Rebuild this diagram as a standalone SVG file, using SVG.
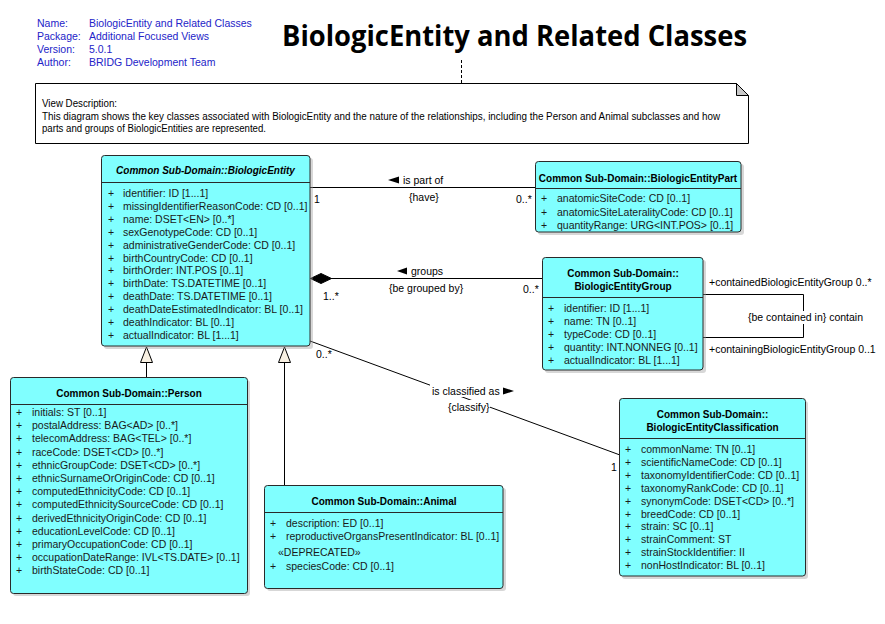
<svg xmlns="http://www.w3.org/2000/svg" width="885" height="624" viewBox="0 0 885 624">
<style>
.hdr{font-family:"Liberation Sans",Arial,sans-serif;font-size:10.5px;fill:#2323c8}
.ttl{font-family:"Open Sans","Liberation Sans",sans-serif;font-weight:700;font-size:28px;fill:#000}
.nt{font-family:"Liberation Sans",Arial,sans-serif;font-size:10px;fill:#000}
.box{fill:#80ffff;stroke:#2a2a2a;stroke-width:1}
.shd{fill:#9a9a9a;opacity:0.4}
.sep{stroke:#2a2a2a;stroke-width:1}
.ct{font-family:"Liberation Sans",Arial,sans-serif;font-size:10px;font-weight:700;fill:#000;text-anchor:middle}
.a{font-family:"Liberation Sans",Arial,sans-serif;font-size:10.5px;fill:#1a1a1a}
.lb{font-family:"Liberation Sans",Arial,sans-serif;font-size:10.5px;fill:#000}
.ln{stroke:#000;stroke-width:1;fill:none}
.gen{fill:#f8f0e2;stroke:#000;stroke-width:1}
</style>
<rect width="885" height="624" fill="#fff"/>

<g id="header">
<text class="hdr" y="27"><tspan x="37">Name:</tspan><tspan x="89">BiologicEntity and Related Classes</tspan></text>
<text class="hdr" y="40"><tspan x="37">Package:</tspan><tspan x="89">Additional Focused Views</tspan></text>
<text class="hdr" y="53"><tspan x="37">Version:</tspan><tspan x="89">5.0.1</tspan></text>
<text class="hdr" y="66"><tspan x="37">Author:</tspan><tspan x="89">BRIDG Development Team</tspan></text>
<text class="ttl" x="282" y="46" textLength="465" lengthAdjust="spacingAndGlyphs">BiologicEntity and Related Classes</text>
</g>

<g id="note">
<line x1="461.5" y1="60" x2="461.5" y2="83" stroke="#000" stroke-dasharray="3,2"/>
<path d="M35.5 83.5 H736.5 L748.5 95.5 V143.5 H35.5 Z" fill="#fff" stroke="#000"/>
<path d="M736.5 83.5 V95.5 H748.5 Z" fill="#c8c8c8" stroke="#000"/>
<text class="nt" x="42" y="107" textLength="75" lengthAdjust="spacingAndGlyphs">View Description:</text>
<text class="nt" x="42" y="119.5" textLength="678" lengthAdjust="spacingAndGlyphs">This diagram shows the key classes associated with BiologicEntity and the nature of the relationships, including the Person and Animal subclasses and how</text>
<text class="nt" x="42" y="132" textLength="224" lengthAdjust="spacingAndGlyphs">parts and groups of BiologicEntities are represented.</text>
</g>

<g id="connectors">
<line class="ln" x1="310" y1="187.5" x2="535" y2="187.5"/>
<path d="M388 180 L399 176.5 L399 183.5 Z" fill="#000"/>
<text class="lb" x="403" y="184">is part of</text>
<text class="lb" x="409" y="201">{have}</text>
<text class="lb" x="314" y="203">1</text>
<text class="lb" x="516" y="203">0..*</text>
<line class="ln" x1="331" y1="278.5" x2="543" y2="278.5"/>
<path d="M310.5 278.5 L321 273.5 L331.5 278.5 L321 283.5 Z" fill="#000" stroke="#000"/>
<path d="M397 271 L407 267.5 L407 274.5 Z" fill="#000"/>
<text class="lb" x="411" y="275">groups</text>
<text class="lb" x="389" y="292">{be grouped by}</text>
<text class="lb" x="323" y="300">1..*</text>
<text class="lb" x="523" y="293">0..*</text>
<path class="ln" d="M703 294.5 H803.5 V337.5 H703"/>
<text class="lb" x="709" y="286">+containedBiologicEntityGroup 0..*</text>
<rect x="746" y="311" width="120" height="13" fill="#fff"/>
<text class="lb" x="748" y="321">{be contained in} contain</text>
<text class="lb" x="709" y="353">+containingBiologicEntityGroup 0..1</text>
<line class="ln" x1="310" y1="341" x2="620" y2="455"/>
<rect x="430" y="384" width="88" height="13" fill="#fff"/>
<rect x="446" y="400" width="44" height="13" fill="#fff"/>
<text class="lb" x="432" y="395">is classified as</text>
<path d="M514 391 L503 387.5 L503 394.5 Z" fill="#000"/>
<text class="lb" x="448" y="411">{classify}</text>
<text class="lb" x="316" y="358">0..*</text>
<text class="lb" x="611" y="471">1</text>
<line class="ln" x1="146.5" y1="362" x2="146.5" y2="377"/>
<path class="gen" d="M146.5 347 L140.5 362.5 L152.5 362.5 Z"/>
<line class="ln" x1="284.5" y1="362" x2="284.5" y2="485"/>
<path class="gen" d="M284.5 347 L278.5 362.5 L290.5 362.5 Z"/>
</g>

<g id="BiologicEntity">
<rect class="shd" x="104" y="158" width="209" height="191" rx="3"/>
<rect class="box" x="101.5" y="155.5" width="208.5" height="190.5" rx="3"/>
<line class="sep" x1="101.5" y1="182.5" x2="310" y2="182.5"/>
<text class="ct" x="205.5" y="174" font-style="italic">Common Sub-Domain::BiologicEntity</text>
<text class="a" y="197"><tspan x="108">+</tspan><tspan x="123">identifier: ID [1...1]</tspan></text>
<text class="a" y="209.9"><tspan x="108">+</tspan><tspan x="123">missingIdentifierReasonCode: CD [0..1]</tspan></text>
<text class="a" y="222.8"><tspan x="108">+</tspan><tspan x="123">name: DSET&lt;EN&gt; [0..*]</tspan></text>
<text class="a" y="235.7"><tspan x="108">+</tspan><tspan x="123">sexGenotypeCode: CD [0..1]</tspan></text>
<text class="a" y="248.6"><tspan x="108">+</tspan><tspan x="123">administrativeGenderCode: CD [0..1]</tspan></text>
<text class="a" y="261.5"><tspan x="108">+</tspan><tspan x="123">birthCountryCode: CD [0..1]</tspan></text>
<text class="a" y="274.4"><tspan x="108">+</tspan><tspan x="123">birthOrder: INT.POS [0..1]</tspan></text>
<text class="a" y="287.3"><tspan x="108">+</tspan><tspan x="123">birthDate: TS.DATETIME [0..1]</tspan></text>
<text class="a" y="300.2"><tspan x="108">+</tspan><tspan x="123">deathDate: TS.DATETIME [0..1]</tspan></text>
<text class="a" y="313.1"><tspan x="108">+</tspan><tspan x="123">deathDateEstimatedIndicator: BL [0..1]</tspan></text>
<text class="a" y="326"><tspan x="108">+</tspan><tspan x="123">deathIndicator: BL [0..1]</tspan></text>
<text class="a" y="338.9"><tspan x="108">+</tspan><tspan x="123">actualIndicator: BL [1...1]</tspan></text>
</g>

<g id="BiologicEntityPart">
<rect class="shd" x="538" y="164" width="206" height="71" rx="3"/>
<rect class="box" x="535.5" y="161.5" width="205.5" height="70.5" rx="3"/>
<line class="sep" x1="535.5" y1="188.5" x2="741" y2="188.5"/>
<text class="ct" x="638" y="182">Common Sub-Domain::BiologicEntityPart</text>
<text class="a" y="202"><tspan x="541">+</tspan><tspan x="557">anatomicSiteCode: CD [0..1]</tspan></text>
<text class="a" y="215.5"><tspan x="541">+</tspan><tspan x="557">anatomicSiteLateralityCode: CD [0..1]</tspan></text>
<text class="a" y="228.5"><tspan x="541">+</tspan><tspan x="557">quantityRange: URG&lt;INT.POS&gt; [0..1]</tspan></text>
</g>

<g id="BiologicEntityGroup">
<rect class="shd" x="545" y="260" width="161" height="113" rx="3"/>
<rect class="box" x="542.5" y="257.5" width="160.5" height="112.5" rx="3"/>
<line class="sep" x1="542.5" y1="297.5" x2="703" y2="297.5"/>
<text class="ct" x="623" y="277">Common Sub-Domain::</text>
<text class="ct" x="623" y="290">BiologicEntityGroup</text>
<text class="a" y="312"><tspan x="548">+</tspan><tspan x="564">identifier: ID [1...1]</tspan></text>
<text class="a" y="325"><tspan x="548">+</tspan><tspan x="564">name: TN [0..1]</tspan></text>
<text class="a" y="338"><tspan x="548">+</tspan><tspan x="564">typeCode: CD [0..1]</tspan></text>
<text class="a" y="351"><tspan x="548">+</tspan><tspan x="564">quantity: INT.NONNEG [0..1]</tspan></text>
<text class="a" y="363.5"><tspan x="548">+</tspan><tspan x="564">actualIndicator: BL [1...1]</tspan></text>
</g>

<g id="Person">
<rect class="shd" x="13" y="380" width="237" height="216" rx="3"/>
<rect class="box" x="10.5" y="377.5" width="237" height="216" rx="3"/>
<line class="sep" x1="10.5" y1="404.5" x2="247.5" y2="404.5"/>
<text class="ct" x="129" y="397">Common Sub-Domain::Person</text>
<text class="a" y="416"><tspan x="16">+</tspan><tspan x="32">initials: ST [0..1]</tspan></text>
<text class="a" y="429.2"><tspan x="16">+</tspan><tspan x="32">postalAddress: BAG&lt;AD&gt; [0..*]</tspan></text>
<text class="a" y="442.4"><tspan x="16">+</tspan><tspan x="32">telecomAddress: BAG&lt;TEL&gt; [0..*]</tspan></text>
<text class="a" y="455.6"><tspan x="16">+</tspan><tspan x="32">raceCode: DSET&lt;CD&gt; [0..*]</tspan></text>
<text class="a" y="468.8"><tspan x="16">+</tspan><tspan x="32">ethnicGroupCode: DSET&lt;CD&gt; [0..*]</tspan></text>
<text class="a" y="482"><tspan x="16">+</tspan><tspan x="32">ethnicSurnameOrOriginCode: CD [0..1]</tspan></text>
<text class="a" y="495.2"><tspan x="16">+</tspan><tspan x="32">computedEthnicityCode: CD [0..1]</tspan></text>
<text class="a" y="508.4"><tspan x="16">+</tspan><tspan x="32">computedEthnicitySourceCode: CD [0..1]</tspan></text>
<text class="a" y="521.6"><tspan x="16">+</tspan><tspan x="32">derivedEthnicityOriginCode: CD [0..1]</tspan></text>
<text class="a" y="534.8"><tspan x="16">+</tspan><tspan x="32">educationLevelCode: CD [0..1]</tspan></text>
<text class="a" y="548"><tspan x="16">+</tspan><tspan x="32">primaryOccupationCode: CD [0..1]</tspan></text>
<text class="a" y="561.2"><tspan x="16">+</tspan><tspan x="32">occupationDateRange: IVL&lt;TS.DATE&gt; [0..1]</tspan></text>
<text class="a" y="574.4"><tspan x="16">+</tspan><tspan x="32">birthStateCode: CD [0..1]</tspan></text>
</g>

<g id="Animal">
<rect class="shd" x="267" y="488" width="239" height="103" rx="3"/>
<rect class="box" x="264.5" y="485.5" width="238.5" height="103" rx="3"/>
<line class="sep" x1="264.5" y1="512.5" x2="503" y2="512.5"/>
<text class="ct" x="384" y="505">Common Sub-Domain::Animal</text>
<text class="a" y="527"><tspan x="270">+</tspan><tspan x="286">description: ED [0..1]</tspan></text>
<text class="a" y="540"><tspan x="270">+</tspan><tspan x="286">reproductiveOrgansPresentIndicator: BL [0..1]</tspan></text>
<text class="a" x="278" y="556">«DEPRECATED»</text>
<text class="a" y="570"><tspan x="270">+</tspan><tspan x="286">speciesCode: CD [0..1]</tspan></text>
</g>

<g id="BiologicEntityClassification">
<rect class="shd" x="622" y="401" width="186" height="178" rx="3"/>
<rect class="box" x="619.5" y="398.5" width="186" height="177.5" rx="3"/>
<line class="sep" x1="619.5" y1="438.5" x2="805.5" y2="438.5"/>
<text class="ct" x="712.5" y="418">Common Sub-Domain::</text>
<text class="ct" x="712.5" y="431">BiologicEntityClassification</text>
<text class="a" y="453"><tspan x="625">+</tspan><tspan x="641">commonName: TN [0..1]</tspan></text>
<text class="a" y="465.9"><tspan x="625">+</tspan><tspan x="641">scientificNameCode: CD [0..1]</tspan></text>
<text class="a" y="478.8"><tspan x="625">+</tspan><tspan x="641">taxonomyIdentifierCode: CD [0..1]</tspan></text>
<text class="a" y="491.7"><tspan x="625">+</tspan><tspan x="641">taxonomyRankCode: CD [0..1]</tspan></text>
<text class="a" y="504.6"><tspan x="625">+</tspan><tspan x="641">synonymCode: DSET&lt;CD&gt; [0..*]</tspan></text>
<text class="a" y="517.5"><tspan x="625">+</tspan><tspan x="641">breedCode: CD [0..1]</tspan></text>
<text class="a" y="530.4"><tspan x="625">+</tspan><tspan x="641">strain: SC [0..1]</tspan></text>
<text class="a" y="543.3"><tspan x="625">+</tspan><tspan x="641">strainComment: ST</tspan></text>
<text class="a" y="556.2"><tspan x="625">+</tspan><tspan x="641">strainStockIdentifier: II</tspan></text>
<text class="a" y="569.1"><tspan x="625">+</tspan><tspan x="641">nonHostIndicator: BL [0..1]</tspan></text>
</g>
</svg>
